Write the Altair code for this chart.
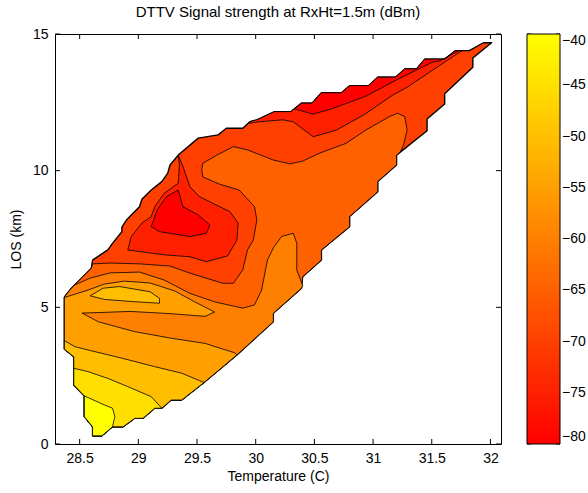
import altair as alt
import pandas as pd

# ---- colour bands (dBm) ----
levels = [-80, -75, -70, -65, -60, -55, -50, -45, -40]

# ---- outer boundary of the measured area (Temperature C, LOS km), clockwise ----
bnd_T = [28.37, 28.43, 28.60, 28.61, 28.74, 28.78, 28.86, 28.86, 28.90, 28.94, 29.01, 29.03, 29.11, 29.20,
         29.25, 29.27, 29.34, 29.51, 29.68, 29.75, 29.89, 29.95, 30.01, 30.16, 30.30, 30.39, 30.48, 30.56,
         30.73, 30.80, 30.96, 31.04, 31.19, 31.27, 31.37, 31.44, 31.61, 31.70, 31.82, 31.94, 32.01,
         31.85, 31.85, 31.61, 31.61, 31.46, 31.46, 31.20, 31.20, 31.04, 31.04, 30.80, 30.80, 30.56, 30.56,
         30.40, 30.39, 30.15, 30.15, 29.84, 29.56, 29.37, 29.28, 29.20, 29.14, 29.04, 28.97, 28.87, 28.78,
         28.69, 28.61, 28.61, 28.54, 28.54, 28.45, 28.45, 28.37]
bnd_L = [5.38, 5.70, 6.43, 6.73, 7.10, 7.34, 7.77, 7.93, 8.20, 8.38, 8.68, 8.95, 9.29, 9.60,
         9.90, 10.21, 10.57, 11.19, 11.31, 11.55, 11.55, 11.79, 11.86, 12.16, 12.16, 12.47, 12.47, 12.85,
         12.85, 13.11, 13.11, 13.42, 13.42, 13.72, 13.72, 14.08, 14.08, 14.39, 14.39, 14.68, 14.68,
         14.12, 13.78, 12.81, 12.44, 11.89, 11.46, 10.57, 10.21, 9.60, 9.23, 8.32, 7.95, 7.10, 6.73,
         6.12, 5.70, 4.78, 4.47, 3.26, 2.25, 1.61, 1.61, 1.31, 1.31, 0.94, 0.94, 0.63, 0.63,
         0.30, 0.30, 0.63, 1.00, 1.76, 2.16, 3.19, 3.47]

# ---- contour lines ----
c70_T = [28.61, 28.76, 29.01, 29.27, 29.44, 29.72, 29.81, 29.89, 29.93, 29.98, 30.01, 29.99, 29.86, 29.69,
         29.55, 29.54, 29.55, 29.67, 29.81, 29.93, 30.15, 30.29, 30.40, 30.55, 30.77, 30.94, 31.14, 31.21,
         31.27, 31.29, 31.26, 31.23]
c70_L = [6.59, 6.62, 6.59, 6.51, 6.25, 5.88, 5.88, 6.37, 7.10, 7.46, 8.20, 8.68, 9.29, 9.51,
         9.77, 10.03, 10.27, 10.57, 10.88, 10.76, 10.39, 10.25, 10.35, 10.65, 11.00, 11.49, 11.98, 12.10,
         11.98, 11.49, 10.94, 10.67]

c65_T = [28.46, 28.59, 28.76, 29.01, 29.22, 29.44, 29.65, 29.89, 29.99, 30.05, 30.10, 30.15, 30.22, 30.32,
         30.35, 30.35, 30.40]
c65_L = [5.82, 6.07, 6.26, 6.29, 6.00, 5.51, 5.20, 4.97, 5.09, 5.63, 6.73, 7.17, 7.59, 7.71,
         7.34, 6.37, 5.80]

c60_T = [28.37, 28.57, 28.71, 28.88, 29.10, 29.31, 29.48, 29.65, 29.57, 29.27, 28.93, 28.67, 28.52, 28.66,
         28.97, 29.28, 29.57, 29.67, 29.82]
c60_L = [5.36, 5.63, 5.85, 5.96, 5.89, 5.60, 5.20, 4.83, 4.67, 4.77, 4.85, 4.81, 4.79, 4.47,
         4.11, 3.87, 3.68, 3.54, 3.34]

c55_T = [28.37, 28.46, 28.60, 28.86, 29.14, 29.37, 29.52]
c55_L = [3.78, 3.56, 3.41, 3.14, 2.83, 2.59, 2.32]

c50_T = [28.45, 28.57, 28.74, 28.91, 29.11]
c50_L = [2.77, 2.65, 2.40, 2.10, 1.73]

c45_T = [28.71, 28.78, 28.80]
c45_L = [1.43, 1.31, 1.00]

lens_T = [28.59, 28.70, 28.84, 29.10, 29.18, 29.18, 28.95, 28.71]
lens_L = [5.42, 5.70, 5.76, 5.57, 5.33, 5.15, 5.21, 5.29]

top75_T = [31.76, 31.74, 31.48, 31.29, 31.17, 30.92, 30.69, 30.49, 30.32, 30.23, 30.01, 29.95]
top75_L = [14.39, 14.34, 13.60, 13.05, 12.77, 12.04, 11.49, 11.24, 11.79, 11.86, 11.78, 11.73]

top80_T = [31.73, 31.57, 31.50, 31.20, 30.94, 30.66, 30.49, 30.33]
top80_L = [14.39, 14.02, 13.96, 13.32, 12.73, 12.28, 12.07, 12.26]

blob75_T = [29.34, 29.38, 29.44, 29.52, 29.78, 29.85, 29.84, 29.76, 29.58, 29.44, 29.22, 28.91, 28.94,
            29.03, 29.11, 29.14, 29.22, 29.34, 29.35]
blob75_L = [10.57, 10.15, 9.41, 9.05, 8.50, 8.08, 7.46, 6.88, 6.67, 6.85, 6.92, 7.10, 7.59,
            8.08, 8.32, 8.68, 9.17, 9.54, 10.21]

blob80_T = [29.11, 29.16, 29.24, 29.34, 29.38, 29.51, 29.61, 29.58, 29.44, 29.18]
blob80_L = [7.95, 8.56, 9.05, 9.29, 8.68, 8.38, 8.01, 7.71, 7.59, 7.77]

x_ticks = [28.5, 29, 29.5, 30, 30.5, 31, 31.5, 32]
y_ticks = [0, 5, 10, 15]

B = list(zip(bnd_T, bnd_L))


def pts(T, L):
    return list(zip(T, L))


# painter's order: (band level, vertex list, outline width)
polys = [
    (-70, B, 1.4),
    (-65, pts(c70_T, c70_L) + B[47:] + B[0:3], 0.8),
    (-60, pts(c65_T, c65_L) + B[56:] + B[0:2], 0.8),
    (-55, pts(c60_T, c60_L) + B[59:], 0.8),
    (-50, pts(c55_T, c55_L) + B[60:], 0.8),
    (-45, pts(c50_T, c50_L) + B[63:75], 0.8),
    (-40, pts(c45_T, c45_L) + B[68:74], 0.8),
    (-50, pts(lens_T, lens_L), 0.8),
    (-75, B[21:38] + pts(top75_T, top75_L), 0.8),
    (-80, B[25:38] + pts(top80_T, top80_L), 0.8),
    (-75, pts(blob75_T, blob75_L), 0.8),
    (-80, pts(blob80_T, blob80_L), 0.8),
]

rows = []
for pid, (lev, vs, sw) in enumerate(polys):
    closed = vs + [vs[0]]
    for i, (t, l) in enumerate(closed):
        rows.append({"poly": pid, "level": lev, "i": i, "T": t, "L": l})
df = pd.DataFrame(rows)
df_xt = pd.DataFrame({"T": x_ticks})
df_yt = pd.DataFrame({"L": y_ticks})
df_ct = pd.DataFrame({"level": levels})

FONT = "Liberation Sans"
W, H, TICK = 446, 410, 5
CB_X, CB_W = 472, 33  # colour bar position (relative to plot) and thickness

x_enc = alt.X("T:Q", title="Temperature (C)",
              scale=alt.Scale(domain=[28.29, 32.09], nice=False, zero=False),
              axis=alt.Axis(values=x_ticks, format="~g", labelFlush=False,
                            grid=False, domain=False, tickSize=0, labelPadding=7,
                            labelFontSize=14, titleFontSize=14, titleFontWeight="normal",
                            titlePadding=4, labelColor="black", titleColor="black"))
y_enc = alt.Y("L:Q", title="LOS  (km)",
              scale=alt.Scale(domain=[0, 15], nice=False, zero=False),
              axis=alt.Axis(values=y_ticks, grid=False, domain=False, tickSize=0,
                            labelFlush=False, labelPadding=7, labelFontSize=14, titleFontSize=14,
                            titleFontWeight="normal", titlePadding=9,
                            labelColor="black", titleColor="black"))
fill_enc = alt.Fill("level:Q",
                    scale=alt.Scale(domain=[-80, -40], range=["#ff0000", "#ffff00"],
                                    interpolate="rgb"),
                    legend=alt.Legend(title=None, orient="none", legendX=CB_X, legendY=0,
                                      direction="vertical", gradientLength=H,
                                      gradientThickness=CB_W, values=levels,
                                      labelFontSize=14, labelOffset=2, padding=0, zindex=0,
                                      gradientStrokeColor="black", gradientStrokeWidth=1,
                                      labelColor="black"))

layers = []
for pid, (lev, vs, sw) in enumerate(polys):
    layers.append(
        alt.Chart(df).transform_filter(alt.datum.poly == pid)
        .mark_line(filled=True, stroke="black", strokeWidth=sw, strokeJoin="round")
        .encode(x=x_enc, y=y_enc, order=alt.Order("i:Q"), fill=fill_enc)
    )

# inward-pointing ticks on all four sides (MATLAB box style)
layers += [
    alt.Chart(df_xt).mark_rule(color="black", strokeWidth=1).encode(
        x=x_enc, y=alt.value(H), y2=alt.value(H - TICK)),
    alt.Chart(df_xt).mark_rule(color="black", strokeWidth=1).encode(
        x=x_enc, y=alt.value(0), y2=alt.value(TICK)),
    alt.Chart(df_yt).mark_rule(color="black", strokeWidth=1).encode(
        y=y_enc, x=alt.value(0), x2=alt.value(TICK)),
    alt.Chart(df_yt).mark_rule(color="black", strokeWidth=1).encode(
        y=y_enc, x=alt.value(W), x2=alt.value(W - TICK)),
]
main = alt.layer(*layers)

# small ticks inside the colour bar at each labelled level
cb_y = alt.Y("level:Q", scale=alt.Scale(domain=[-80, -40], nice=False, zero=False), axis=None)
cb_ticks = alt.layer(
    alt.Chart(df_ct).mark_rule(color="black", strokeWidth=1).encode(
        y=cb_y, x=alt.value(CB_X), x2=alt.value(CB_X + 4)),
    alt.Chart(df_ct).mark_rule(color="black", strokeWidth=1).encode(
        y=cb_y, x=alt.value(CB_X + CB_W), x2=alt.value(CB_X + CB_W - 4)),
)

chart = alt.layer(main, cb_ticks).resolve_scale(y="independent").properties(
    width=W, height=H,
    title=alt.TitleParams("DTTV Signal strength at RxHt=1.5m (dBm)", fontSize=15,
                          fontWeight="normal", font=FONT, anchor="middle", offset=7,
                          color="black"),
    autosize="none",
    padding={"left": 55, "top": 34, "right": 87, "bottom": 49},
).configure(font=FONT).configure_view(stroke="black", strokeWidth=1)

chart.save("out.html", embed_options={"renderer": "svg", "actions": False})
